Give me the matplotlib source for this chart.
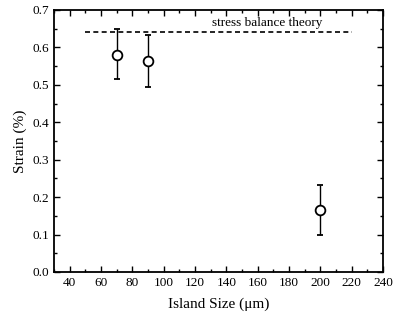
import matplotlib
matplotlib.use("Agg")
import matplotlib.pyplot as plt
from matplotlib.ticker import MultipleLocator

island_size = [70, 90, 200]
strain = [0.58, 0.563, 0.165]
err_low = [0.065, 0.068, 0.065]
err_high = [0.07, 0.069, 0.067]
theory_x = [50, 220]
theory_y = [0.64, 0.64]

plt.rcParams['font.family'] = ['Liberation Serif', 'DejaVu Serif']
fig = plt.figure(figsize=(3.94, 3.24), dpi=100)
ax = fig.add_axes([54/394, 1-272/324, (383-54)/394, (272-10)/324])

ax.plot(theory_x, theory_y, color='black', linestyle=(0, (3, 2)), linewidth=1.2)
ax.text(166, 0.665, 'stress balance theory', ha='center', va='center', fontsize=9.5)
ax.errorbar(island_size, strain, yerr=[err_low, err_high], fmt='o', markersize=7,
            markerfacecolor='white', markeredgecolor='black', markeredgewidth=1.3,
            ecolor='black', elinewidth=1, capsize=2.5)

ax.set_xlim(30, 240)
ax.set_ylim(0.0, 0.7)
ax.xaxis.set_minor_locator(MultipleLocator(10))
ax.yaxis.set_major_locator(MultipleLocator(0.1))
ax.yaxis.set_minor_locator(MultipleLocator(0.05))
ax.set_xticks(range(40, 241, 20))
ax.tick_params(which='both', direction='in', top=True, right=True, labelsize=9.5)
ax.tick_params(which='major', length=4, width=1)
ax.tick_params(which='minor', length=2, width=1)
ax.yaxis.set_major_formatter(matplotlib.ticker.FormatStrFormatter('%.1f'))
for s in ax.spines.values():
    s.set_linewidth(1.3)
ax.set_xlabel('Island Size (μm)', fontsize=11, labelpad=6)
ax.set_ylabel('Strain (%)', fontsize=11, labelpad=4)

fig.savefig('out.png', dpi=100)
